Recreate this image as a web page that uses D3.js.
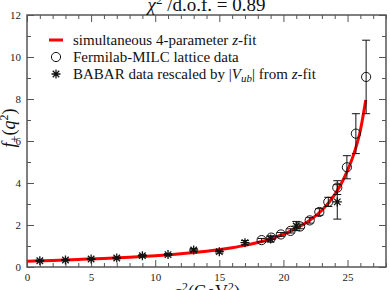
<!DOCTYPE html>
<html>
<head>
<meta charset="utf-8">
<style>
    body { margin: 0; background: #fff; }
    svg { display: block; }
    .tick text { font-size: 11px; fill: #222; }
    .tick line { stroke: #555; }
    .domain { display: none; }
</style>
</head>
<body>
<svg width="390" height="290"></svg>
<script src="https://d3js.org/d3.v7.min.js"></script>
<script>
    // z-fit curve
    let fitQ2 = [0, 2, 4, 6, 8, 10, 12, 14, 16, 17, 18, 19, 20, 21, 22, 23, 24, 24.5, 25, 25.5, 26, 26.42]
    let fitF  = [0.27, 0.31, 0.36, 0.41, 0.47, 0.54, 0.63, 0.75, 0.92, 1.03, 1.17, 1.34, 1.56, 1.84, 2.2, 2.7, 3.45, 3.95, 4.6, 5.4, 6.5, 7.95]

    // Fermilab-MILC lattice points
    let latQ2  = [18.3, 19.05, 19.8, 20.55, 21.3, 22.05, 22.8, 23.5, 24.2, 24.95, 25.65, 26.45]
    let latF   = [1.28, 1.40, 1.55, 1.72, 1.93, 2.22, 2.62, 3.10, 3.78, 4.75, 6.35, 9.05]
    let latErr = [0.08, 0.08, 0.09, 0.10, 0.11, 0.13, 0.16, 0.22, 0.33, 0.55, 0.95, 1.75]

    // BABAR points rescaled by |Vub|
    let babQ2  = [1, 3, 5, 7, 9, 11, 13, 15, 17, 19, 21, 24.2]
    let babF   = [0.30, 0.33, 0.38, 0.43, 0.54, 0.59, 0.81, 0.73, 1.16, 1.33, 1.95, 3.10]
    let babErr = [0.03, 0.03, 0.03, 0.04, 0.05, 0.05, 0.07, 0.07, 0.10, 0.14, 0.22, 0.82]

    let legendLabels = ["simultaneous 4-parameter z-fit", "Fermilab-MILC lattice data", "BABAR data rescaled by |V_ub| from z-fit"]

    let serif = "'Times New Roman', 'Liberation Serif', Times, 'DejaVu Serif', serif"

    let margin = { top: 15, right: 4, bottom: 23, left: 27 }
    let width = 390, height = 290

    let svg = d3.select("svg")

    let x = d3.scaleLinear().domain([0, 28]).range([margin.left, width - margin.right])
    let y = d3.scaleLinear().domain([0, 12]).range([height - margin.bottom, margin.top])

    let majorX = d3.range(0, 26, 5), minorX = d3.range(0, 29, 1).filter(d => d % 5 != 0)
    let majorY = d3.range(0, 13, 2), minorY = d3.range(1, 12, 2)

    // ticks on all four sides, pointing in
    function ticks(axisFn, scale, vals, size, labels, tr) {
        let a = axisFn(scale).tickValues(vals).tickSizeInner(-size).tickSizeOuter(0).tickPadding(size + 4)
        if (!labels) a.tickFormat("")
        return svg.append("g").attr("transform", tr).call(a)
    }
    let x0 = height - margin.bottom, y0 = margin.left
    ticks(d3.axisBottom, x, majorX, 7, true, `translate(0,${x0})`)
        .selectAll(".tick text").attr("y", 6)
    ticks(d3.axisBottom, x, minorX, 4, false, `translate(0,${x0})`)
    ticks(d3.axisTop, x, majorX, 7, false, `translate(0,${margin.top})`)
    ticks(d3.axisTop, x, minorX, 4, false, `translate(0,${margin.top})`)
    ticks(d3.axisLeft, y, majorY, 7, true, `translate(${y0},0)`)
        .selectAll(".tick text").attr("x", -6)
    ticks(d3.axisLeft, y, minorY, 4, false, `translate(${y0},0)`)
    ticks(d3.axisRight, y, majorY, 7, false, `translate(${width - margin.right},0)`)
    ticks(d3.axisRight, y, minorY, 4, false, `translate(${width - margin.right},0)`)

    svg.append("rect")
        .attr("x", x(0)).attr("y", y(12))
        .attr("width", x(28) - x(0)).attr("height", y(0) - y(12))
        .attr("fill", "none").attr("stroke", "#555").attr("stroke-width", 1.5)

    // fit curve
    let line = d3.line().x(d => x(d[0])).y(d => y(d[1])).curve(d3.curveMonotoneX)
    svg.append("path")
        .datum(fitQ2.map((q, i) => [q, fitF[i]]))
        .attr("d", line)
        .attr("fill", "none").attr("stroke", "#f00").attr("stroke-width", 3)

    function errBars(qs, fs, es) {
        let g = svg.append("g").attr("stroke", "#111").attr("stroke-width", 1)
        qs.forEach((q, i) => {
            let cx = x(q), t = y(fs[i] + es[i]), b = y(fs[i] - es[i])
            g.append("line").attr("x1", cx).attr("x2", cx).attr("y1", t).attr("y2", b)
            g.append("line").attr("x1", cx - 4).attr("x2", cx + 4).attr("y1", t).attr("y2", t)
            g.append("line").attr("x1", cx - 4).attr("x2", cx + 4).attr("y1", b).attr("y2", b)
        })
    }

    function star(g, cx, cy, r) {
        let d = r * 0.72
        let p = `M${cx - r},${cy}H${cx + r}M${cx},${cy - r}V${cy + r}` +
            `M${cx - d},${cy - d}L${cx + d},${cy + d}M${cx - d},${cy + d}L${cx + d},${cy - d}`
        g.append("path").attr("d", p).attr("stroke", "#111").attr("stroke-width", 1.3)
    }

    errBars(babQ2, babF, babErr)
    errBars(latQ2, latF, latErr)

    let stars = svg.append("g")
    babQ2.forEach((q, i) => star(stars, x(q), y(babF[i]), 4.5))

    svg.append("g").selectAll("circle")
        .data(latQ2)
        .join("circle")
        .attr("cx", d => x(d))
        .attr("cy", (d, i) => y(latF[i]))
        .attr("r", 4.6)
        .attr("fill", "none").attr("stroke", "#111").attr("stroke-width", 1)

    // legend
    let lg = svg.append("g").attr("font-size", 15).attr("fill", "#111")
    lg.append("line").attr("x1", 49).attr("x2", 63).attr("y1", 40).attr("y2", 40)
        .attr("stroke", "#f00").attr("stroke-width", 3)
    lg.append("circle").attr("cx", 56).attr("cy", 57).attr("r", 4.6)
        .attr("fill", "none").attr("stroke", "#111")
    star(lg, 56, 74, 4.5)

    let t1 = lg.append("text").attr("x", 73).attr("y", 45)
    t1.append("tspan").text("simultaneous 4-parameter ")
    t1.append("tspan").attr("font-style", "italic").text("z")
    t1.append("tspan").text("-fit")
    lg.append("text").attr("x", 73).attr("y", 62).text(legendLabels[1])
    let t3 = lg.append("text").attr("x", 73).attr("y", 79)
    t3.append("tspan").text("BABAR data rescaled by |")
    t3.append("tspan").attr("font-style", "italic").text("V")
    t3.append("tspan").attr("font-style", "italic").attr("font-size", 11).attr("dy", 3).text("ub")
    t3.append("tspan").attr("dy", -3).text("| from ")
    t3.append("tspan").attr("font-style", "italic").text("z")
    t3.append("tspan").text("-fit")

    // title
    let tt = svg.append("text").attr("x", (x(0) + x(28)) / 2).attr("y", 11)
        .attr("text-anchor", "middle").attr("font-size", 19).attr("fill", "#111")
    tt.append("tspan").attr("font-style", "italic").text("χ")
    tt.append("tspan").attr("font-size", 13).attr("dy", -7).text("2")
    tt.append("tspan").attr("dy", 7).text(" /d.o.f. = 0.89")

    // axis labels
    let xl = svg.append("text").attr("x", (x(0) + x(28)) / 2).attr("y", 298)
        .attr("text-anchor", "middle").attr("font-size", 18).attr("fill", "#111")
    xl.append("tspan").attr("font-style", "italic").text("q")
    xl.append("tspan").attr("font-size", 12).attr("dy", -7).text("2")
    xl.append("tspan").attr("dy", 7).text("(GeV")
    xl.append("tspan").attr("font-size", 12).attr("dy", -7).text("2")
    xl.append("tspan").attr("dy", 7).text(")")

    let yl = svg.append("text").attr("transform", `translate(15,128) rotate(-90)`)
        .attr("text-anchor", "middle").attr("font-size", 18).attr("fill", "#111")
    yl.append("tspan").attr("font-style", "italic").text("f")
    yl.append("tspan").attr("font-size", 12).attr("dy", 4).text("+")
    yl.append("tspan").attr("dy", -4).text("(")
    yl.append("tspan").attr("font-style", "italic").text("q")
    yl.append("tspan").attr("font-size", 12).attr("dy", -7).text("2")
    yl.append("tspan").attr("dy", 7).text(")")

    // serif everywhere (axes set their own sans-serif otherwise)
    svg.selectAll("g").attr("font-family", serif)
    svg.selectAll("text").attr("font-family", serif)
</script>
</body>
</html>
